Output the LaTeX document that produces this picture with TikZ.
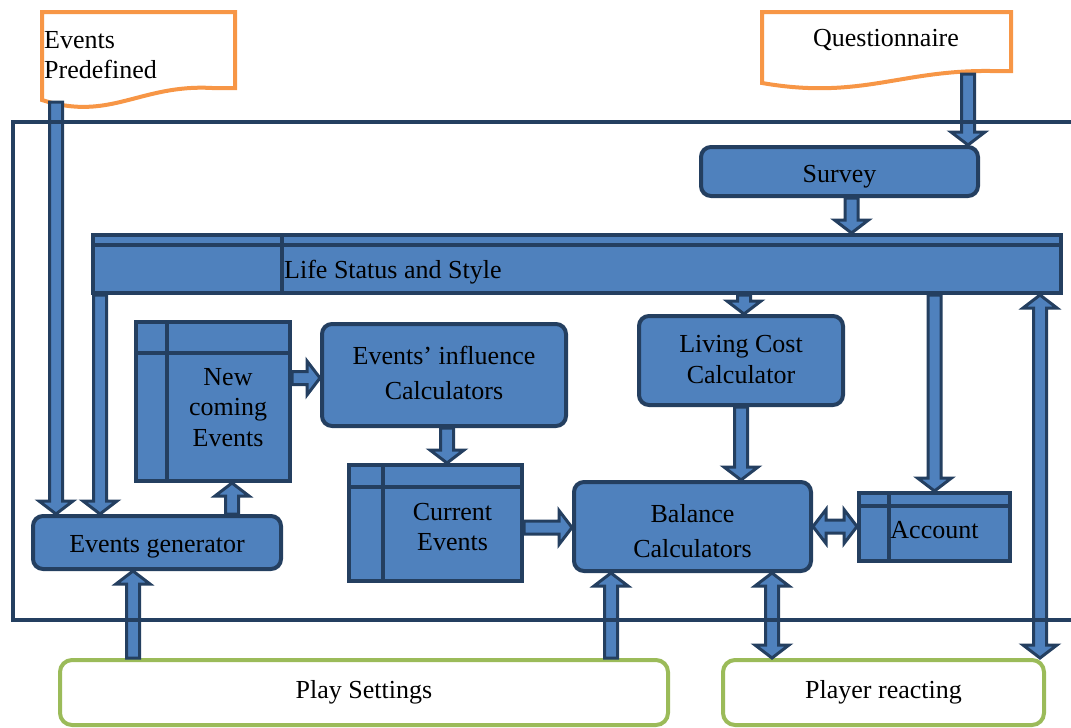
\documentclass[tikz,border=0pt]{standalone}
\usepackage{fontspec}
\setmainfont{Liberation Serif}
\usetikzlibrary{calc,positioning}
\definecolor{dkblue}{HTML}{243F60}
\definecolor{ltblue}{HTML}{4F81BD}
\definecolor{orng}{HTML}{F79646}
\definecolor{grn}{HTML}{9BBB59}

% text lines in a box, #1 = extra space above the first line
\newcommand\boxtext[2][0pt]{\begin{tabular}{@{}c@{}}\rule{0pt}{\dimexpr21.35pt+#1\relax}#2\end{tabular}}

% fat arrow from #1 to #2
\newcommand\blockarrow[2]{%
  \path ($(#2)!13pt!(#1)$) coordinate (neck);
  \filldraw[arrowline] ($(#1)!6.5pt!90:(#2)$) -- ($(neck)!6.5pt!90:(#2)$) -- ($(neck)!17pt!90:(#2)$) -- (#2)
    -- ($(neck)!17pt!-90:(#2)$) -- ($(neck)!6.5pt!-90:(#2)$) -- ($(#1)!6.5pt!-90:(#2)$) -- cycle;}
% fat arrow with two heads
\newcommand\dblarrow[2]{%
  \path ($(#1)!13pt!(#2)$) coordinate (necka) ($(#2)!13pt!(#1)$) coordinate (neckb);
  \filldraw[arrowline] (#1) -- ($(necka)!17pt!90:(#2)$) -- ($(necka)!6.5pt!90:(#2)$) -- ($(neckb)!6.5pt!90:(#2)$)
    -- ($(neckb)!17pt!90:(#2)$) -- (#2) -- ($(neckb)!17pt!-90:(#2)$) -- ($(neckb)!6.5pt!-90:(#2)$)
    -- ($(necka)!6.5pt!-90:(#2)$) -- ($(necka)!17pt!-90:(#2)$) -- cycle;}

\begin{document}
\begin{tikzpicture}[x=1pt,y=-1pt,font=\fontsize{26}{30.5}\selectfont,
	procbox/.style={draw=dkblue, fill=ltblue, line width=4pt, rounded corners=10pt, align=center, inner sep=0pt},
	store/.style 2 args={draw=dkblue, fill=ltblue, line width=4pt, inner sep=0pt, align=center,
		path picture={\draw[dkblue, line width=4pt]
			([yshift=-#1]path picture bounding box.north west) -- ([yshift=-#1]path picture bounding box.north east)
			([xshift=#2]path picture bounding box.north west) -- ([xshift=#2]path picture bounding box.south west);}},
	userbox/.style={draw=grn, fill=white, line width=4pt, rounded corners=12pt, inner sep=0pt},
	docline/.style={draw=orng, fill=white, line width=4pt},
	arrowline/.style={draw=dkblue, fill=ltblue, line width=3pt, line join=miter},
	frameline/.style={draw=dkblue, line width=4pt}]
	\useasboundingbox (0,0) rectangle (1071,728);
	\clip (0,0) rectangle (1071,728);

	% documents
	\filldraw[docline] (42,100) -- (42,12) -- (235,12) -- (235,88) -- (212,88) .. controls (140,84) and (110,122) .. (42,100) -- cycle;
	\node[anchor=north west, align=left, inner sep=0pt] (evpre) at (44,31) {Events\\Predefined};
	\filldraw[docline] (762,83) -- (762,12) -- (1011,12) -- (1011,71) -- (990,71) .. controls (900,70) and (860,100) .. (762,83) -- cycle;
	\node (quest) at (886,40) {Questionnaire};

	% boxes
	\node[procbox, minimum width=277pt, minimum height=49pt] (survey) at (839.5,171.5) {\boxtext[8.8pt]{Survey}};
	\node[store={10pt}{189pt}, minimum width=968pt, minimum height=58pt] (life) at (577,264) {};
	\node[anchor=base west, inner sep=0pt] (lifetxt) at (284,278) {Life Status and Style};
	\node[store={31pt}{31pt}, minimum width=154pt, minimum height=159pt] (newev) at (213,401.5)
		{\hspace*{30pt}\boxtext[15.8pt]{New\\coming\\Events}};
	\node[procbox, minimum width=244pt, minimum height=102pt] (infl) at (444,375)
		{\boxtext[1pt]{Events' influence\\[4.5pt]Calculators}};
	\node[procbox, minimum width=204pt, minimum height=89pt] (living) at (741,360.5)
		{\boxtext[3pt]{Living Cost\\Calculator}};
	\node[store={22pt}{34pt}, minimum width=173pt, minimum height=116pt] (curev) at (435.5,523)
		{\hspace*{34pt}\boxtext[12.3pt]{Current\\Events}};
	\node[procbox, minimum width=237pt, minimum height=89pt] (balance) at (692.5,526.5)
		{\boxtext[13.8pt]{Balance\\[4.5pt]Calculators}};
	\node[store={13pt}{30pt}, minimum width=151pt, minimum height=68pt] (account) at (934.5,527) {\boxtext[9.8pt]{Account}};
	\node[procbox, minimum width=248pt, minimum height=53pt] (evgen) at (157,542.5) {\boxtext[6.8pt]{Events generator}};
	\node[userbox, minimum width=608pt, minimum height=65pt] (play) at (364,692.5) {Play Settings};
	\node[userbox, minimum width=321pt, minimum height=65pt] (player) at (883.5,692.5) {Player reacting};

	% arrow ends
	\coordinate (pre-out) at (56,102);
	\coordinate (quest-out) at (968,74);
	\coordinate (life-gen) at ([xshift=9pt]life.south west);
	\coordinate (sur-out) at ([xshift=12pt]survey.south);
	\coordinate (liv-in) at ([xshift=3pt]living.north);
	\coordinate (life-pl) at ([xshift=-23pt]life.south east);
	\coordinate (gen-out) at ([xshift=75pt]evgen.north);
	\coordinate (new-out) at ([yshift=23.5pt]newev.east);
	\coordinate (infl-out) at ([xshift=3pt]infl.south);
	\coordinate (cur-out) at ([yshift=-4.5pt]curev.east);
	\coordinate (gen-in) at ([xshift=-24pt]evgen.south);
	\coordinate (bal-in) at ([xshift=-81.5pt]balance.south);
	\coordinate (bal-pl) at ([xshift=79.5pt]balance.south);

	% arrows
	\blockarrow{quest-out}{survey.north -| quest-out}
	\blockarrow{pre-out}{evgen.north -| pre-out}
	\blockarrow{life-gen}{evgen.north -| life-gen}
	\blockarrow{sur-out}{life.north -| sur-out}
	\blockarrow{life.south -| liv-in}{liv-in}
	\blockarrow{life.south -| account.north}{account.north}
	\dblarrow{life-pl}{player.north -| life-pl}
	\blockarrow{gen-out}{newev.south -| gen-out}
	\blockarrow{new-out}{infl.west |- new-out}
	\blockarrow{infl-out}{curev.north -| infl-out}
	\blockarrow{cur-out}{balance.west |- cur-out}
	\blockarrow{living.south}{balance.north -| living.south}
	\dblarrow{balance.east}{account.west |- balance.east}
	\blockarrow{play.north -| gen-in}{gen-in}
	\blockarrow{play.north -| bal-in}{bal-in}
	\dblarrow{bal-pl}{player.north -| bal-pl}

	% system frame
	\draw[frameline] (12.5,121.5) rectangle (1090,619.5);
\end{tikzpicture}
\end{document}
